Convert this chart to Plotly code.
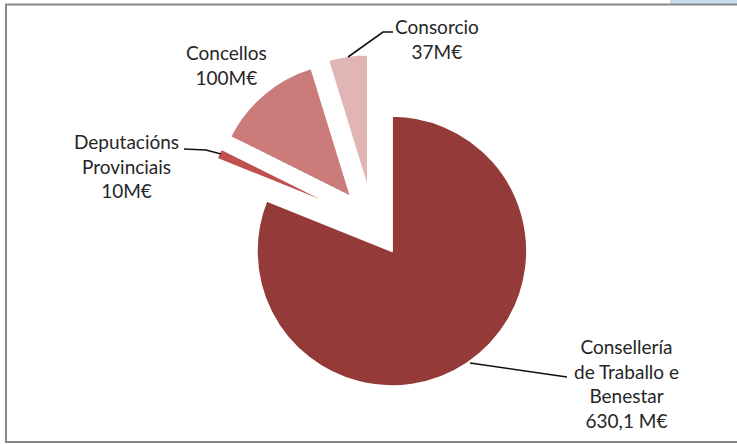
import plotly.graph_objects as go

# ---- data ----
categories = ["Consellería de Traballo e Benestar", "Deputacións Provinciais", "Concellos", "Consorcio"]
values = [630.1, 10, 100, 37]
value_labels = ["630,1 M€", "10M€", "100M€", "37M€"]
label_lines = [
    ["Consellería", "de Traballo e", "Benestar"],
    ["Deputacións", "Provinciais"],
    ["Concellos"],
    ["Consorcio"],
]
colors = ["#943b39", "#c0504d", "#cb7b79", "#e0b5b4"]
pulls = [0.25, 0.25, 0.25, 0.25]

W, H = 737, 444
ML, MR, MT, MB = 0, 0, 54, 52
PW, PH = W - ML - MR, H - MT - MB


def px(x):
    return (x - ML) / PW


def py(y):
    return (H - MB - y) / PH


cx = 373
fig = go.Figure()
fig.add_trace(go.Pie(
    labels=categories,
    values=values,
    sort=False,
    direction="clockwise",
    rotation=0,
    pull=pulls,
    marker=dict(colors=colors, line=dict(color="white", width=2)),
    textinfo="none",
    hoverinfo="label+value",
    showlegend=False,
    domain=dict(x=[px(cx - 175), px(cx + 175)], y=[0, 1]),
))

font = dict(family="Lato, Carlito, Calibri, sans-serif", size=19, color="#262626")

# label positions (pixel centers of text blocks)
label_pos = [(626, 383), (126, 166), (226, 65), (437, 39)]
for lines, val, (x, y) in zip(label_lines, value_labels, label_pos):
    fig.add_annotation(
        x=px(x), y=py(y), xref="paper", yref="paper",
        text="<br>".join(lines + [val]), showarrow=False,
        font=font, align="center", xanchor="center", yanchor="middle",
    )

# leader lines
leaders = [
    [(470, 363), (560, 376), (567, 377)],
    [(184, 149), (206, 150), (221, 154)],
    [(348, 57), (383, 32), (393, 32)],
]
for pts in leaders:
    path = "M " + " L ".join(f"{px(a)},{py(b)}" for a, b in pts)
    fig.add_shape(type="path", path=path, xref="paper", yref="paper",
                  line=dict(color="#111111", width=1.6))

# frame
fig.add_shape(type="rect", xref="paper", yref="paper",
              x0=px(670), x1=px(745), y0=py(4), y1=py(-5),
              fillcolor="#c6dce8", line=dict(width=0), layer="below")
fig.add_shape(type="path", xref="paper", yref="paper",
              path=f"M {px(745)},{py(4.5)} L {px(6)},{py(4.5)} L {px(6)},{py(442)} L {px(745)},{py(442)}",
              line=dict(color="#888888", width=2))

fig.update_layout(
    width=W, height=H,
    margin=dict(l=ML, r=MR, t=MT, b=MB),
    paper_bgcolor="white",
    plot_bgcolor="white",
)

fig.write_html("out.html", config={"displayModeBar": False},
               post_script="document.body.style.margin='0px';")
